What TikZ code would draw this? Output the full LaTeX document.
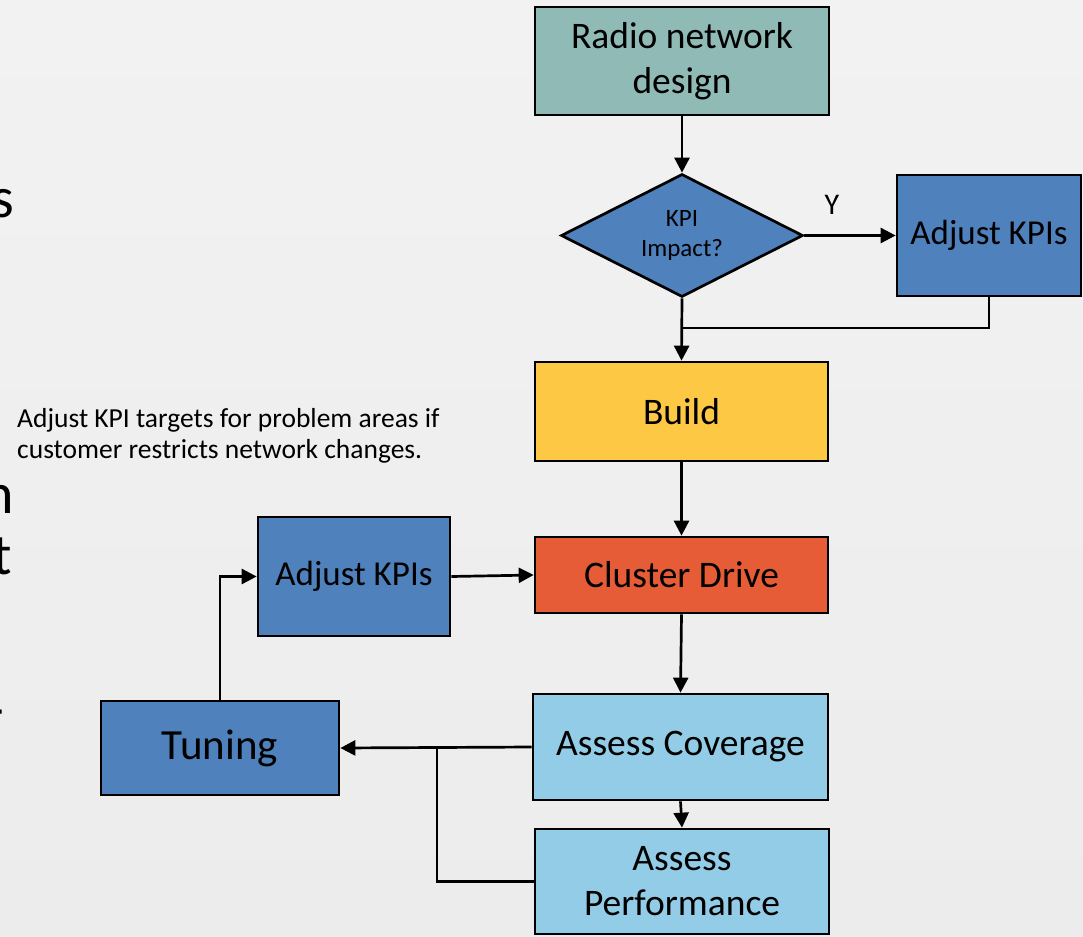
\documentclass[tikz,border=0pt]{standalone}
\usepackage{fontspec}
\setmainfont{Carlito}
\usetikzlibrary{shapes.geometric,arrows.meta}

\definecolor{bgtop}{HTML}{F2F2F2}
\definecolor{bgbot}{HTML}{ECECEC}
\definecolor{tealbox}{HTML}{8FBAB6}
\definecolor{bluebox}{HTML}{4F81BD}
\definecolor{yellowbox}{HTML}{FDC843}
\definecolor{orangebox}{HTML}{E65C36}
\definecolor{skybox}{HTML}{93CCE6}

\tikzset{
  flowbox/.style={draw=black, line width=2.7pt, rectangle, inner sep=0pt,
    align=center, font=\fontsize{37.5}{45}\selectfont},
  decision/.style={draw=black, line width=2.7pt, diamond, inner sep=0pt,
    align=center, font=\fontsize{25}{30}\selectfont},
  link/.style={line width=2.7pt, draw=black},
  arrow/.style={link, -{Triangle[length=15pt,width=15pt]}},
  bigglyph/.style={inner sep=0pt, anchor=base east, font=\fontsize{58}{60}\selectfont}
}

\begin{document}
\begin{tikzpicture}[x=1pt,y=-1pt]
  % page background
  \useasboundingbox (0,0) rectangle (1083,936);
  \shade[top color=bgtop, bottom color=bgbot] (0,0) rectangle (1083,936);

  % line ends of the slide text behind the chart
  \node[bigglyph] (gs) at (14,217) {s};
  \node[bigglyph] (gn) at (14,513) {n};
  \node[bigglyph] (gt) at (12,574) {t};
  \node[bigglyph] (gd) at (4,728) {-};

  % boxes
  \node[flowbox, fill=tealbox, minimum width=294pt, minimum height=108pt] (rnd) at (682,61) {Radio network\\design};
  \node[decision, fill=bluebox, minimum width=242pt, minimum height=123pt, aspect=1.97] (kpi) at (682,235.5) {KPI\\Impact?};
  \node[flowbox, fill=bluebox, minimum width=184pt, minimum height=121pt, font=\fontsize{35}{42}\selectfont] (adjr) at (989,235.5) {Adjust KPIs};
  \node[flowbox, fill=yellowbox, minimum width=293pt, minimum height=99pt] (build) at (681.5,411.5) {Build};
  \node[flowbox, fill=orangebox, minimum width=293pt, minimum height=76pt] (cluster) at (681.5,575) {Cluster Drive};
  \node[flowbox, fill=bluebox, minimum width=192pt, minimum height=119pt, font=\fontsize{35}{42}\selectfont] (adjl) at (354,576.5) {Adjust KPIs};
  \node[flowbox, fill=bluebox, minimum width=238pt, minimum height=94pt, font=\fontsize{43}{50}\selectfont] (tuning) at (220,748) {Tuning};
  \node[flowbox, fill=skybox, minimum width=295pt, minimum height=106pt] (cov) at (680.5,747) {Assess Coverage};
  \node[flowbox, fill=skybox, minimum width=294pt, minimum height=105pt] (perf) at (682,881.5) {Assess\\Performance};

  % note
  \node[anchor=north west, inner sep=0pt, align=left, font=\fontsize{27.5}{31}\selectfont] (note) at (17,408)
    {Adjust KPI targets for problem areas if\\customer restricts network changes.};

  % branch label
  \node[font=\fontsize{30}{34}\selectfont, inner sep=0pt] (ylab) at (832,205) {Y};

  % junction points
  \coordinate (j1) at (682,328);
  \coordinate (j2) at (437,747);

  % connectors
  \draw[arrow] (rnd.south) -- (kpi.north);
  \draw[arrow] (kpi.east) -- (adjr.west);
  \draw[arrow] (kpi.south) -- (build.north);
  \draw[link] (adjr.south) |- (j1);
  \draw[arrow] (build.south) -- (cluster.north);
  \draw[arrow] (adjl.east) -- (cluster.west);
  \draw[arrow] (tuning.north) |- (adjl.west);
  \draw[arrow] (cluster.south) -- (cov.north);
  \draw[arrow] (cov.west) -- (tuning.east);
  \draw[arrow] (cov.south) -- (perf.north);
  \draw[link] (perf.west) -| (j2);
\end{tikzpicture}
\end{document}
